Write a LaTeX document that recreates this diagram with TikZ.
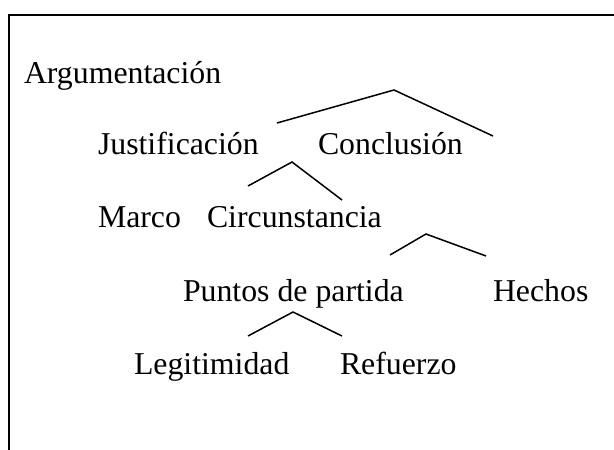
\documentclass[tikz,border=0pt]{standalone}
\usepackage{fontspec}
\setmainfont{Liberation Serif}
\begin{document}
\begin{tikzpicture}[x=1pt,y=-1pt,
  lbl/.style={anchor=base west,inner sep=0pt,outer sep=0pt,font=\fontsize{31.8}{36}\selectfont},
  branch/.style={line width=1.5pt,line join=miter},
  frame/.style={line width=2.6pt}]
\useasboundingbox (0,0) rectangle (614,450);
% frame
\coordinate (fb) at (9,450);
\coordinate (fc) at (9,15);
\coordinate (fr) at (614,15);
\draw[frame] (fb) -- (fc) -- (fr);
% labels
\node[lbl] (arg) at (24,83) {Argumentación};
\node[lbl] (jus) at (98,154) {Justificación};
\node[lbl] (con) at (318,154) {Conclusión};
\node[lbl] (mar) at (98,227) {Marco};
\node[lbl] (cir) at (207,227) {Circunstancia};
\node[lbl] (pun) at (183,301) {Puntos de partida};
\node[lbl] (hec) at (493,301) {Hechos};
\node[lbl] (leg) at (134,374) {Legitimidad};
\node[lbl] (ref) at (340,374) {Refuerzo};
% branches
\coordinate (a1) at (277,123); \coordinate (a2) at (394,90); \coordinate (a3) at (493,136);
\draw[branch] (a1) -- (a2) -- (a3);
\coordinate (b1) at (248,186); \coordinate (b2) at (292,162); \coordinate (b3) at (342,200);
\draw[branch] (b1) -- (b2) -- (b3);
\coordinate (c1) at (390,255); \coordinate (c2) at (426,234); \coordinate (c3) at (486,256);
\draw[branch] (c1) -- (c2) -- (c3);
\coordinate (d1) at (248,336); \coordinate (d2) at (293,312); \coordinate (d3) at (342,336);
\draw[branch] (d1) -- (d2) -- (d3);
\end{tikzpicture}
\end{document}
